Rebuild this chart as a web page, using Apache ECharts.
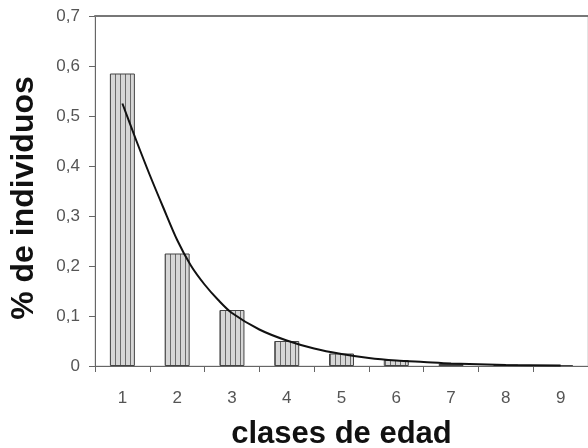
<!DOCTYPE html>
<html>
<head>
<meta charset="utf-8">
<script src="https://cdn.jsdelivr.net/npm/echarts@6/dist/echarts.min.js"></script>
<style>
  html, body { margin: 0; padding: 0; background: #fff; }
  #chart { width: 588px; height: 448px; }
</style>
</head>
<body>
<div id="chart"></div>
<script>
// clases de edad y proporción de individuos
const categories = ['1', '2', '3', '4', '5', '6', '7', '8', '9'];
const barValues = [0.585, 0.225, 0.112, 0.05, 0.025, 0.012, 0.004, 0.003, 0.002];

// curva de ajuste (posición en clases, valor)
const curveX = [1, 1.25, 1.5, 1.75, 2, 2.25, 2.5, 2.75, 3, 3.5, 4, 4.5, 5, 5.5, 6, 6.5, 7, 8, 9];
const curveY = [0.525, 0.452, 0.382, 0.316, 0.252, 0.201, 0.163, 0.132, 0.106, 0.073, 0.051, 0.035, 0.024, 0.016, 0.011, 0.008, 0.005, 0.002, 0.001];

const yTicks = [0, 0.1, 0.2, 0.3, 0.4, 0.5, 0.6, 0.7];

// trama de rayas verticales para las barras
function stripePattern() {
  const c = document.createElement('canvas');
  c.width = 5;
  c.height = 10;
  const ctx = c.getContext('2d');
  ctx.fillStyle = '#d6d6d6';
  ctx.fillRect(0, 0, 5, 10);
  ctx.fillStyle = '#6a6a6a';
  ctx.fillRect(0, 0, 1, 10);
  return c;
}

const chart = echarts.init(document.getElementById('chart'));
const font = '"Liberation Sans", Arial, sans-serif';

chart.setOption({
  animation: false,
  grid: {
    left: 95, right: 0, top: 16, bottom: 82,
    containLabel: false,
    outerBoundsMode: 'none',
    show: true, borderColor: '#c8c8c8', borderWidth: 1
  },
  xAxis: [{
    type: 'category',
    data: categories,
    name: 'clases de edad',
    nameLocation: 'middle',
    nameGap: 53,
    nameTextStyle: { fontFamily: font, fontSize: 31, fontWeight: 'bold', color: '#111' },
    axisLine: { lineStyle: { color: '#666', width: 1 } },
    axisTick: { show: true, length: 6, lineStyle: { color: '#666' } },
    axisLabel: { margin: 24, fontFamily: font, fontSize: 17, color: '#555' }
  }, {
    type: 'value',
    position: 'top',
    min: 0.5,
    max: 9.5,
    axisLine: { show: true, lineStyle: { color: '#777', width: 2 } },
    axisTick: { show: false },
    axisLabel: { show: false },
    splitLine: { show: false }
  }],
  yAxis: {
    type: 'value',
    min: 0,
    max: 0.7,
    interval: 0.1,
    name: '% de individuos',
    nameLocation: 'middle',
    nameGap: 55,
    nameTextStyle: { fontFamily: font, fontSize: 32, fontWeight: 'bold', color: '#111', padding: [0, 14, 0, 0] },
    axisLine: { show: true, lineStyle: { color: '#666', width: 1 } },
    axisTick: { show: true, length: 6, lineStyle: { color: '#666' } },
    splitLine: { show: false },
    axisLabel: {
      margin: 15,
      fontFamily: font,
      fontSize: 17,
      color: '#555',
      formatter: v => {
        const t = yTicks.find(x => Math.abs(x - v) < 1e-9);
        if (t === undefined) return '';
        return t === 0 ? '0' : t.toFixed(1).replace('.', ',');
      }
    }
  },
  series: [{
    type: 'bar',
    data: barValues,
    barWidth: 25,
    itemStyle: {
      color: { image: stripePattern(), repeat: 'repeat' },
      borderColor: '#444',
      borderWidth: 1
    }
  }, {
    type: 'line',
    xAxisIndex: 1,
    data: curveX.map((x, i) => [x, curveY[i]]),
    smooth: 0.3,
    showSymbol: false,
    symbol: 'none',
    lineStyle: { color: '#111', width: 2 }
  }]
});
</script>
</body>
</html>
